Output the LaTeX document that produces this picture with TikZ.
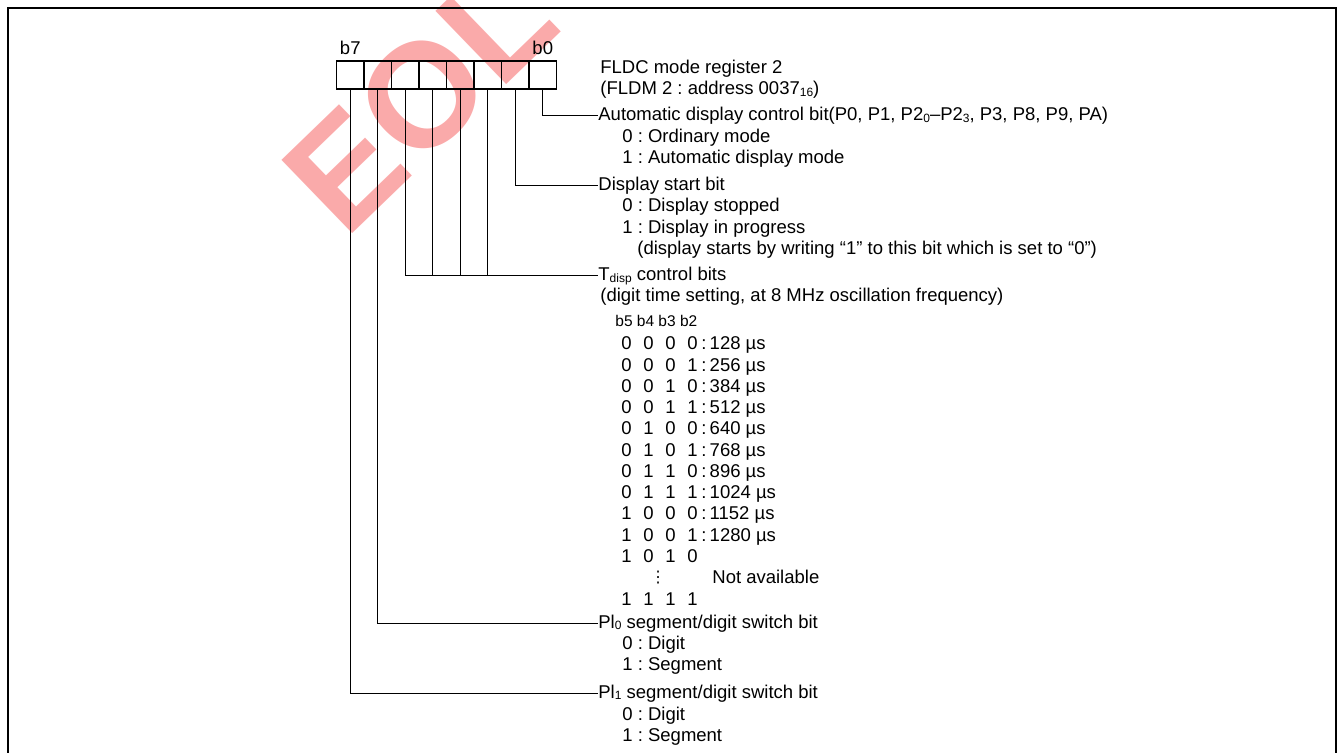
\documentclass[tikz,border=0pt]{standalone}
\usepackage{fontspec}
\setmainfont{Liberation Sans}
\newfontfamily\dotsfont{DejaVu Sans}
\usetikzlibrary{positioning}
\definecolor{eolPink}{RGB}{250,170,170}
\newcommand{\lowidx}[1]{\raisebox{-0.6pt}{\fontsize{6}{6}\selectfont #1}}
\newcommand{\bitrow}[4]{\makebox[11pt][l]{#1}\makebox[11pt][l]{#2}\makebox[11pt][l]{#3}\makebox[7pt][l]{#4}}

\begin{document}
\frenchspacing
\begin{tikzpicture}[
  x=0.5pt, y=-0.5pt,
  bitcell/.style={
    draw,
    line width=0.7pt,
    minimum width=13.75pt,
    minimum height=14pt,
    inner sep=0pt
  },
  head/.style={
    anchor=west,
    inner sep=0pt,
    text height=7pt,
    text depth=2pt,
    font=\fontsize{9.25}{10.65}\selectfont
  },
  item/.style={
    anchor=base west,
    inner sep=0pt,
    font=\fontsize{9.25}{10.65}\selectfont
  },
  leader/.style={line width=0.5pt},
  watermark/.style={
    text=eolPink,
    font=\fontsize{74}{74}\selectfont\bfseries,
    rotate=44
  }
]
  \useasboundingbox (0,0) rectangle (1339,753);
  \node[watermark] (eolmark) at (420,98) {EOL};
  \draw[line width=1.4pt] (8,770) -- (8,8) -- (1336,8) -- (1336,770);

  % register cells, b0 on the right
  \foreach \i in {0,...,7}
    \node[bitcell] (b\i) at ({542.75-27.5*\i},75) {};
  \node[item,anchor=base] (lblhi) at ([yshift=3pt]b7.north) {b7};
  \node[item,anchor=base] (lbllo) at ([yshift=3pt]b0.north) {b0};

  \node[item] (regname) at (600,74) {FLDC mode register 2};
  \node[item] (regaddr) at (600,95) {(FLDM 2 : address 0037\lowidx{16})};

  % b0
  \node[head] (autoctl) at (598,116)
    {Automatic display control bit(P0, P1, P2\lowidx{0}–P2\lowidx{3}, P3, P8, P9, PA)};
  \node[item] (autozero) at (622,143) {0 : Ordinary mode};
  \node[item] (autoone) at (622,164) {1 : Automatic display mode};

  % b1
  \node[head] (startbit) at (598,186) {Display start bit};
  \node[item] (startzero) at (622,212) {0 : Display stopped};
  \node[item] (startone) at (622,234) {1 : Display in progress};
  \node[item] (startnote) at (637,255)
    {(display starts by writing “1” to this bit which is set to “0”)};

  % b2--b5
  \node[head] (tdisp) at (598,276) {T\lowidx{disp} control bits};
  \node[item] (tdispnote) at (600,302)
    {(digit time setting, at 8 MHz oscillation frequency)};
  \node[item,font=\fontsize{7.75}{9}\selectfont] (tdisphdr) at (615,327) {b5 b4 b3 b2};
  \foreach \p/\q/\r/\s/\v [count=\k from 0] in {
      0/0/0/0/128, 0/0/0/1/256, 0/0/1/0/384, 0/0/1/1/512, 0/1/0/0/640,
      0/1/0/1/768, 0/1/1/0/896, 0/1/1/1/1024, 1/0/0/0/1152, 1/0/0/1/1280}
    \node[item] (code\k) at (621,{350+21.25*\k})
      {\bitrow{\p}{\q}{\r}{\s}:\hspace{1.6pt}\v~µs};
  \node[item] (code10) at (621,562.5) {\bitrow{1}{0}{1}{0}};
  \node[item,anchor=base,font=\dotsfont\fontsize{8}{8}\selectfont] (codedots) at (658,582) {⋮};
  \node[item] (codena) at (712,583.75) {Not available};
  \node[item] (code11) at (621,605) {\bitrow{1}{1}{1}{1}};

  % b6
  \node[head] (plzero) at (598,623) {Pl\lowidx{0} segment/digit switch bit};
  \node[item] (plzerod) at (622,649) {0 : Digit};
  \node[item] (plzeros) at (622,670) {1 : Segment};

  % b7
  \node[head] (plone) at (598,693) {Pl\lowidx{1} segment/digit switch bit};
  \node[item] (ploned) at (622,720) {0 : Digit};
  \node[item] (plones) at (622,741) {1 : Segment};

  \draw[leader] (b0.south) |- (autoctl.west);
  \draw[leader] (b1.south) |- (startbit.west);
  \draw[leader] (b5.south) |- (tdisp.west);
  \foreach \i in {2,3,4}
    \draw[leader] (b\i.south) -- (b\i.south |- tdisp.west);
  \draw[leader] (b6.south) |- (plzero.west);
  \draw[leader] (b7.south) |- (plone.west);
\end{tikzpicture}
\end{document}
